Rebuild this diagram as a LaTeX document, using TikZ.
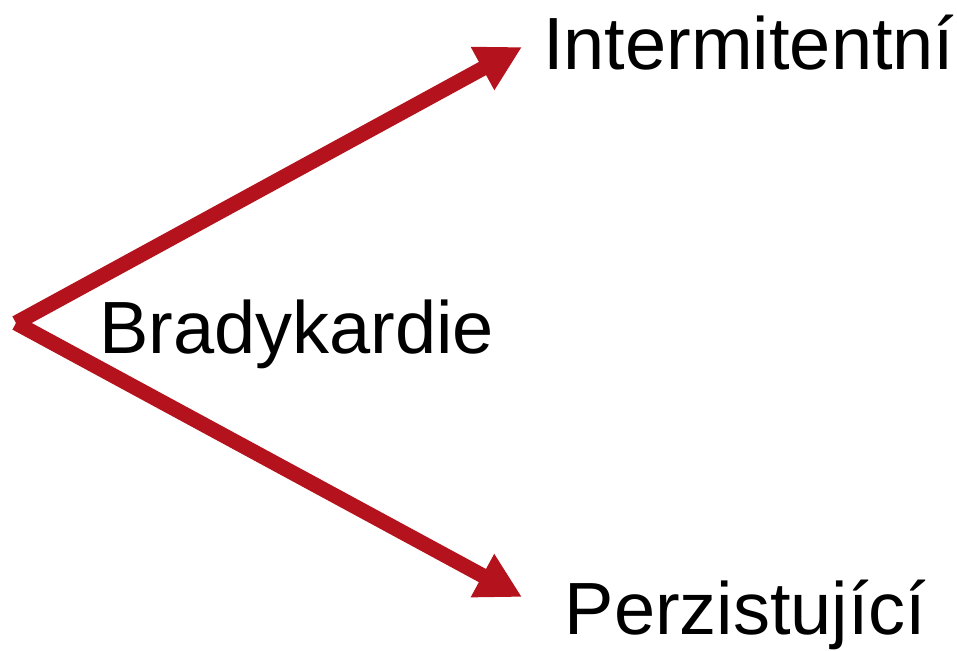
\documentclass[tikz,border=0pt]{standalone}
\usepackage{fontspec}
\setmainfont{Liberation Sans}
\usetikzlibrary{arrows.meta}
\definecolor{arrred}{RGB}{180,18,28}
\begin{document}
\begin{tikzpicture}[x=1pt,y=-1pt,
  lbl/.style={anchor=base west,inner sep=0pt,font=\fontsize{74}{88}\selectfont},
  conn/.style={draw=arrred,line width=15pt,-{Triangle[length=45pt,width=46pt]},fill=arrred}]
\useasboundingbox (0,0) rectangle (957,650);
\node[lbl] (int) at (543,70) {Intermitentní};
\node[lbl] (bra) at (99,353) {Bradykardie};
\node[lbl] (per) at (564.5,634) {Perzistující};
\coordinate (v) at (16,323);
\coordinate (t1) at (522,47);
\coordinate (t2) at (522,597);
\draw[conn] (v) -- (t1);
\draw[conn] (v) -- (t2);
\end{tikzpicture}
\end{document}
